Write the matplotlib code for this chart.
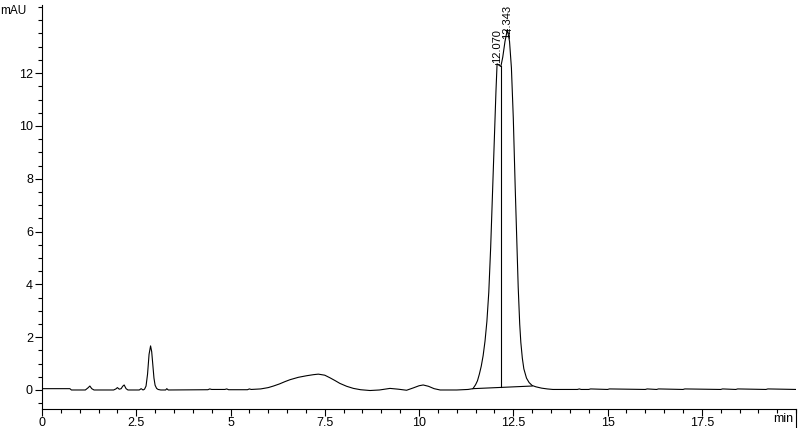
import numpy as np
import matplotlib
matplotlib.use('Agg')
import matplotlib.pyplot as plt
from matplotlib.ticker import MultipleLocator

# Chromatogramm-Werte (Zeit in min, Signal in mAU)
zeit = [0.00, 0.74, 0.78, 1.15, 1.22, 1.27, 1.32, 1.38,
        1.90, 1.96, 2.00, 2.05, 2.10, 2.14, 2.18, 2.23, 2.28,
        2.58, 2.63, 2.68, 2.72, 2.76, 2.80, 2.84, 2.88, 2.91, 2.94, 2.97, 3.00, 3.04, 3.08, 3.15,
        3.28, 3.31, 3.35, 4.40, 4.45, 4.50, 4.85, 4.90, 4.95, 5.45, 5.50, 5.55,
        5.80, 6.00, 6.14, 6.30, 6.45, 6.58, 6.80, 7.02, 7.20, 7.33, 7.50, 7.64, 7.78, 7.90, 8.08, 8.26,
        8.45, 8.70, 8.95, 9.23, 9.45, 9.67, 9.85, 10.00, 10.11, 10.25, 10.40, 10.56, 10.80, 11.00, 11.30,
        11.43, 11.50, 11.55, 11.60, 11.65, 11.70, 11.75, 11.80, 11.85, 11.90, 11.95, 12.00, 12.04,
        12.07, 12.12, 12.17, 12.22, 12.28, 12.343, 12.40, 12.45, 12.50, 12.55, 12.60, 12.63, 12.67,
        12.70, 12.74, 12.78, 12.85, 12.92, 13.00, 13.10, 13.25, 13.40, 13.55,
        14.20, 14.25, 14.30, 14.50, 14.55, 15.00, 15.05, 16.00, 16.05, 16.30, 16.35,
        17.00, 17.05, 18.00, 18.05, 18.40, 18.45, 19.20, 19.25, 20.00]
signal = [0.05, 0.05, 0.00, 0.00, 0.08, 0.15, 0.05, 0.00,
          0.00, 0.04, 0.09, 0.03, 0.05, 0.14, 0.19, 0.05, 0.00,
          0.00, 0.05, 0.00, 0.03, 0.15, 0.60, 1.35, 1.67, 1.45, 0.95, 0.45, 0.18, 0.06, 0.02, 0.00,
          0.00, 0.05, 0.00, 0.01, 0.04, 0.02, 0.02, 0.04, 0.01, 0.01, 0.04, 0.02,
          0.04, 0.09, 0.15, 0.23, 0.32, 0.39, 0.48, 0.54, 0.58, 0.60, 0.56, 0.46, 0.35, 0.25, 0.14, 0.06,
          0.01, -0.02, 0.00, 0.06, 0.03, -0.01, 0.08, 0.16, 0.19, 0.14, 0.05, 0.00, 0.00, 0.00, 0.02,
          0.05, 0.20, 0.35, 0.60, 0.90, 1.30, 1.85, 2.60, 3.70, 5.40, 7.50, 9.60, 11.30,
          12.35, 12.30, 12.25, 12.60, 13.20, 13.65, 13.20, 12.20, 10.30, 7.70, 5.30, 3.90, 2.50,
          1.80, 1.20, 0.80, 0.45, 0.28, 0.17, 0.12, 0.07, 0.04, 0.02,
          0.02, 0.04, 0.02, 0.02, 0.04, 0.02, 0.04, 0.02, 0.04, 0.02, 0.04,
          0.02, 0.04, 0.02, 0.04, 0.02, 0.04, 0.02, 0.04, 0.02]

# Peaks mit Retentionszeit-Beschriftung
peak_zeit = [12.070, 12.343]
peak_hoehe = [12.35, 13.65]
peak_text = ['12.070', '12.343']
text_hoehe = [12.40, 13.30]

# Integrations-Basislinie und Trennlinie zwischen den Peaks
basis_zeit = [11.43, 13.00]
basis_wert = [0.05, 0.15]
tal_zeit = 12.17
tal_unten = 0.10
tal_oben = 12.25

plt.rcParams['font.family'] = ['Liberation Sans', 'DejaVu Sans']

fig = plt.figure(figsize=(7.98, 4.28), dpi=100)
ax = fig.add_axes([0.0526, 0.0444, 0.945, 0.944])

ax.plot(zeit, signal, color='black', lw=0.8)
ax.plot(basis_zeit, basis_wert, color='black', lw=0.8)
ax.plot([tal_zeit, tal_zeit], [tal_unten, tal_oben], color='black', lw=0.8)

for t, h, th, s in zip(peak_zeit, peak_hoehe, text_hoehe, peak_text):
    ax.plot([t - 0.06, t + 0.06], [h, h], color='black', lw=0.6)
    ax.text(t, th, s, rotation=90, ha='center', va='bottom', fontsize=8)

ax.set_xlim(0, 20)
ax.set_ylim(-0.72, 14.58)
ax.xaxis.set_minor_locator(MultipleLocator(0.5))
ax.yaxis.set_minor_locator(MultipleLocator(0.5))
ax.set_xticks([0, 2.5, 5, 7.5, 10, 12.5, 15, 17.5])
ax.set_xticklabels(['0', '2.5', '5', '7.5', '10', '12.5', '15', '17.5'])
ax.set_yticks([0, 2, 4, 6, 8, 10, 12])

ax.tick_params(which='major', length=5, width=0.8, labelsize=9, pad=1.5)
ax.tick_params(axis='x', which='major', pad=1)
ax.tick_params(which='minor', length=3, width=0.8)
ax.spines['top'].set_visible(False)
ax.spines['right'].set_visible(False)
for sp in ['left', 'bottom']:
    ax.spines[sp].set_linewidth(0.8)

ax.axvline(20, ymin=-0.05, ymax=0, color='black', lw=0.8, clip_on=False)
fig.text(0.0, 0.988, 'mAU', fontsize=8.5, ha='left', va='top')
fig.text(0.994, 0.008, 'min', fontsize=9, ha='right', va='bottom')

fig.savefig('out.png', dpi=100)
